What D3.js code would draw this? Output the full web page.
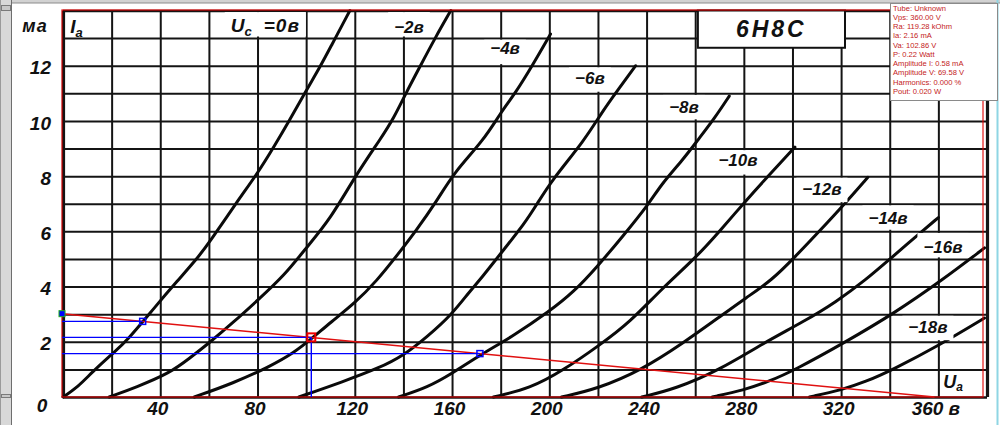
<!DOCTYPE html>
<html lang="ru">
<head>
<meta charset="UTF-8">
<title>6Н8С</title>
<style>
  body { margin: 0; background: #fff; }
  svg { display: block; }
  .grid path { display: none; }
  .grid line { stroke: #141414; stroke-width: 2px; }
  .curve { fill: none; stroke: #0a0a0a; stroke-width: 3px; stroke-linecap: round; }
  .scan { font-family: "Liberation Sans", Arial, sans-serif; font-style: italic; font-weight: bold; fill: #111; }
  .ticks path, .ticks line { display: none; }
  .ticks text { font-family: "Liberation Sans", Arial, sans-serif; font-style: italic; font-weight: bold; fill: #111; font-size: 19px; }
  .load { stroke: #e01010; stroke-width: 1.4px; fill: none; }
  .swing { stroke: #0000ff; stroke-width: 1.4px; fill: none; }
  .info { font-family: "Liberation Sans", Arial, sans-serif; font-size: 7.6px; fill: #c41a1a; }
</style>
</head>
<body>
<script src="https://cdn.jsdelivr.net/npm/d3@7/dist/d3.min.js"></script>
<script>

// anode characteristics, [Ua (V), Ia (mA)]
var ug0   = [[0,0],[6,0.35],[12,0.9],[20,1.55],[26,2],[38,3.28],[47,4.2],[55,5],[60,5.57],[72,7.13],[80,8.1],[87,9.1],[93,10],[100,11.1],[106,12],[110,12.67],[118,14]];
var ug2   = [[19,0],[30,0.35],[44,0.87],[52,1.4],[60,1.95],[70,2.7],[80,3.5],[91,4.4],[100,5.4],[110,6.45],[120.5,8.05],[131,9.4],[136,10.1],[141,11],[147,12],[153,13],[159.5,14]];
var ug4   = [[54,0],[70,0.5],[85,1.1],[95,1.6],[102.9,2.16],[110,2.7],[120,3.4],[129,4.2],[138,5.2],[145,6],[154,7.13],[160.5,8.1],[173,9.3],[180,10.3],[186,11],[193,12],[200.5,13.15]];
var ug6   = [[97,0],[115,0.55],[130,1.05],[140,1.5],[150,2.2],[160,3.0],[167,3.8],[172,4.3],[180,5.2],[190,6.3],[195,7.0],[201,7.85],[214.5,9.3],[221.5,10.3],[228,11.1],[235.5,12]];
var ug8   = [[138,0],[150,0.35],[160,0.85],[172.4,1.57],[185,2.2],[200,3.1],[210,3.8],[220,4.75],[230,5.8],[241,7.0],[246,7.7],[255,8.6],[261,9.3],[268,10.1],[274,10.9]];
var ug10  = [[177,0],[192,0.3],[206,0.98],[221,1.9],[233,2.7],[246,3.9],[260.5,5.07],[270,6.0],[281,7.13],[291,8.1],[301,9.05]];
var ug12  = [[205,0],[220,0.3],[238,0.98],[255,1.95],[270,2.9],[281,3.6],[291.5,4.23],[301,5.07],[311,6.0],[321.5,7.0],[331,7.96]];
var ug14  = [[238,0],[252,0.3],[270,0.98],[288,1.95],[305,2.75],[318,3.45],[330,4.23],[341,5.07],[350,5.75],[360,6.5]];
var ug16  = [[267,0],[280,0.25],[290,0.55],[301,0.98],[321,1.95],[342,3.04],[361.5,4.23],[379,5.4]];
var ug18  = [[307,0],[320,0.25],[330,0.55],[341,0.98],[360.5,1.88],[379,2.86]];

var curveLabels = ["−2в", "−4в", "−6в", "−8в", "−10в", "−12в", "−14в", "−16в", "−18в"];
var xTicks = [40, 80, 120, 160, 200, 240, 280, 320, 360];
var yTicks = [2, 4, 6, 8, 10, 12];

// load-line overlay readout
var vps = 360, ra = 119.28, ia = 2.16, va = 102.86, ampV = 69.58;
var infoLines = ["Tube: Unknown", "Vps: 360.00 V", "Ra: 119.28 kOhm", "Ia: 2.16 mA", "Va: 102.86 V",
                 "P: 0.22 Watt", "Amplitude I: 0.58 mA", "Amplitude V: 69.58 V", "Harmonics: 0.000 %", "Pout: 0.020 W"];

// where the curve labels sit (Ua, Ia)
var labelAt = [[142.3,13.41],[181.8,12.64],[216.7,11.56],[255.4,10.51],[277.6,8.59],[312.1,7.54],[339.3,6.49],[361.9,5.43],[355.7,2.54]];

var W = 1000, H = 425;
var svg = d3.select("body").append("svg").attr("width", W).attr("height", H);

var x  = d3.scaleLinear().domain([0, 380]).range([63, 987]);   // scanned grid
var xo = d3.scaleLinear().domain([0, 380]).range([62, 983]);   // the overlay's own calibration
var y  = d3.scaleLinear().domain([0, 14]).range([397, 10.5]);

// window chrome
svg.append("rect").attr("x", 0).attr("y", 0).attr("width", W).attr("height", 3).attr("fill", "#d2d2d2");
svg.append("line").attr("x1", 0).attr("x2", W).attr("y1", 3).attr("y2", 3).attr("stroke", "#8c8c8c");
svg.append("rect").attr("x", 0).attr("y", 0).attr("width", 11).attr("height", H).attr("fill", "#d8d8d8");
svg.append("line").attr("x1", 11.5).attr("x2", 11.5).attr("y1", 0).attr("y2", H).attr("stroke", "#6e6e6e");
svg.append("line").attr("x1", 0.5).attr("x2", 0.5).attr("y1", 0).attr("y2", H).attr("stroke", "#9a9a9a");
svg.append("rect").attr("x", 1.5).attr("y", 5.5).attr("width", 9).attr("height", 5).attr("fill", "#c8c8c8").attr("stroke", "#7a7a7a");
svg.append("rect").attr("x", 1.5).attr("y", 394.5).attr("width", 9).attr("height", 3).attr("fill", "#c8c8c8").attr("stroke", "#7a7a7a");
svg.append("line").attr("x1", 997.5).attr("x2", 997.5).attr("y1", 0).attr("y2", H).attr("stroke", "#8fd6e4").attr("stroke-width", 2);

// grid
var gx = svg.append("g").attr("class", "grid")
  .attr("transform", "translate(0," + y(0) + ")")
  .call(d3.axisBottom(x).tickValues(d3.range(0, 381, 20)).tickSize(-(y(0) - y(14))).tickFormat(""));
var gy = svg.append("g").attr("class", "grid")
  .attr("transform", "translate(" + x(0) + ",0)")
  .call(d3.axisLeft(y).tickValues(d3.range(0, 15, 1)).tickSize(-(x(380) - x(0))).tickFormat(""));
gx.selectAll(".tick").filter(function(d) { return d === 0 || d === 380; }).select("line").style("stroke-width", "3.2px");
gy.selectAll(".tick").filter(function(d) { return d === 0 || d === 14; }).select("line").style("stroke-width", "2.6px");

// white notches behind the curve labels
var labels = svg.append("g");
var masks = labels.append("g");

labels.selectAll("text.cl")
  .data(curveLabels)
  .join("text")
  .attr("class", "cl scan")
  .attr("x", function(d, i) { return x(labelAt[i][0]); })
  .attr("y", function(d, i) { return y(labelAt[i][1]); })
  .attr("dy", "0.36em")
  .attr("text-anchor", "middle")
  .style("font-size", "17px")
  .text(function(d) { return d; });

// "Uc = 0в" header
var uc = labels.append("text").attr("class", "scan")
  .attr("x", x(69)).attr("y", y(13.46)).attr("dy", "0.36em").style("font-size", "19px");
uc.append("tspan").text("U");
uc.append("tspan").attr("dy", "4").style("font-size", "13px").text("c");
uc.append("tspan").attr("dy", "-4").attr("dx", "12").style("letter-spacing", "1px").text("=0в");

labels.selectAll("text").each(function(d, i) {
  var b = this.getBBox();
  var iy = y.invert(b.y + b.height / 2);
  var row = Math.floor(iy);
  masks.append("rect")
    .attr("x", b.x - 6).attr("width", b.width + 12)
    .attr("y", y(row + 1) + 1.6).attr("height", y(row) - y(row + 1) - 3.2)
    .attr("fill", "#fff");
});

// type box
var box = svg.append("g");
box.append("rect")
  .attr("x", x(261.1)).attr("y", y(14))
  .attr("width", x(321.6) - x(261.1)).attr("height", y(12.65) - y(14))
  .attr("fill", "#fff").attr("stroke", "#111").attr("stroke-width", 2);
box.append("text").attr("class", "scan")
  .attr("x", x(291.3)).attr("y", y(13.33)).attr("dy", "0.36em")
  .attr("text-anchor", "middle").style("font-size", "23px").style("letter-spacing", "3px")
  .text("6Н8С");

// curves
var line = d3.line()
  .x(function(d) { return x(d[0]); })
  .y(function(d) { return y(d[1]); })
  .curve(d3.curveBasis);

svg.append("g").selectAll("path")
  .data([ug0, ug2, ug4, ug6, ug8, ug10, ug12, ug14, ug16, ug18])
  .join("path")
  .attr("class", "curve")
  .attr("d", line);

labels.raise();

// axis labels
svg.append("g").attr("class", "ticks")
  .attr("transform", "translate(-3," + y(0) + ")")
  .call(d3.axisBottom(x).tickValues(xTicks).tickSize(0).tickPadding(5)
    .tickFormat(function(d) { return d === 360 ? "360 в" : d; }));

svg.append("g").attr("class", "ticks")
  .attr("transform", "translate(" + (x(0) - 10) + ",2)")
  .call(d3.axisLeft(y).tickValues(yTicks).tickSize(0).tickPadding(2));

svg.append("text").attr("class", "scan").attr("x", 42).attr("y", y(0) + 8).attr("dy", "0.36em")
  .attr("text-anchor", "middle").style("font-size", "19px").text("0");
svg.append("text").attr("class", "scan").attr("x", 35).attr("y", y(13.45)).attr("dy", "0.36em")
  .attr("text-anchor", "middle").style("font-size", "18px").style("letter-spacing", "1px").text("ма");

var ia_t = svg.append("text").attr("class", "scan").attr("x", x(3)).attr("y", y(13.45)).attr("dy", "0.36em").style("font-size", "19px");
ia_t.append("tspan").text("I");
ia_t.append("tspan").attr("dy", "4").style("font-size", "13px").text("a");

var ua_t = svg.append("text").attr("class", "scan").attr("x", x(362)).attr("y", y(0.4)).attr("dy", "0.1em").style("font-size", "18px");
ua_t.append("tspan").text("U");
ua_t.append("tspan").attr("dy", "3").style("font-size", "12px").text("a");

// overlay: plot frame, load line and signal swing
svg.append("rect").attr("x", xo(0)).attr("y", y(14) - 0.5)
  .attr("width", xo(380) - xo(0)).attr("height", y(0) - y(14) + 0.5)
  .attr("fill", "none").attr("stroke", "#e00000").attr("stroke-width", 1.3).attr("opacity", 0.85);

var i0 = vps / ra;
var vLo = va - ampV, vHi = va + ampV;
var iLo = (vps - vLo) / ra, iHi = (vps - vHi) / ra;

svg.append("line").attr("class", "load")
  .attr("x1", xo(0)).attr("y1", y(i0)).attr("x2", xo(vps)).attr("y2", y(0));

var swing = svg.append("g");
[[vLo, iLo], [va, ia], [vHi, iHi]].forEach(function(p) {
  swing.append("line").attr("class", "swing")
    .attr("x1", xo(0)).attr("x2", xo(p[0])).attr("y1", y(p[1])).attr("y2", y(p[1]));
});
swing.append("line").attr("class", "swing")
  .attr("x1", xo(va)).attr("x2", xo(va)).attr("y1", y(ia)).attr("y2", y(0));

[[vLo, iLo], [vHi, iHi]].forEach(function(p) {
  swing.append("rect").attr("x", xo(p[0]) - 3).attr("y", y(p[1]) - 3).attr("width", 6).attr("height", 6)
    .attr("fill", "none").attr("stroke", "#0000ff").attr("stroke-width", 1.5);
});
swing.append("rect").attr("x", xo(va) - 4).attr("y", y(ia) - 4).attr("width", 8).attr("height", 8)
  .attr("fill", "none").attr("stroke", "#f00000").attr("stroke-width", 2);
swing.append("rect").attr("x", xo(0) - 3).attr("y", y(i0) - 3).attr("width", 6).attr("height", 6)
  .attr("fill", "#0000ff").attr("stroke", "#1fae1f").attr("stroke-width", 1);

// readout box
var info = svg.append("g").attr("transform", "translate(890,3)");
info.append("rect").attr("x", 0.5).attr("y", 0.5).attr("width", 107).attr("height", 97)
  .attr("fill", "#fff").attr("stroke", "#8a8a8a");
info.selectAll("text").data(infoLines).join("text")
  .attr("class", "info")
  .attr("x", 3)
  .attr("y", function(d, i) { return 7.5 + i * 9.25; })
  .text(function(d) { return d; });

</script>
</body>
</html>
